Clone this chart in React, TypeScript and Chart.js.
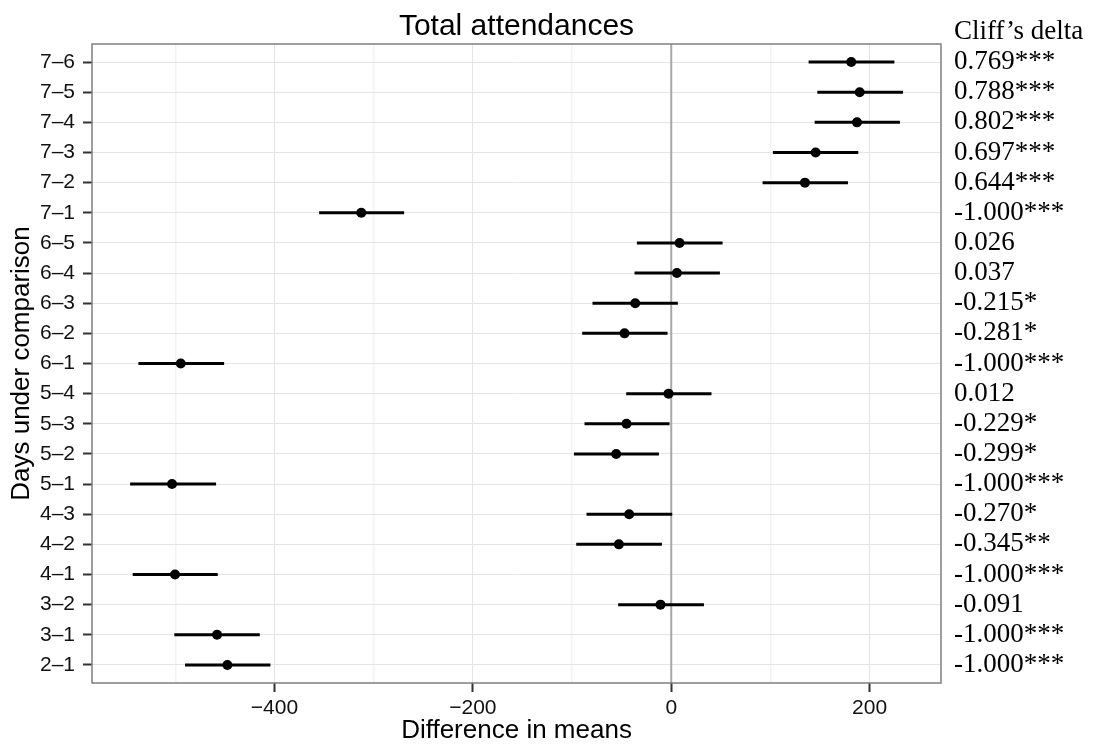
import React, { useEffect, useRef } from "react";
import { Chart, registerables } from "chart.js";

Chart.register(...registerables);

// Comparisons, top to bottom
const comparisons = [
  "7–6", "7–5", "7–4", "7–3", "7–2", "7–1",
  "6–5", "6–4", "6–3", "6–2", "6–1",
  "5–4", "5–3", "5–2", "5–1",
  "4–3", "4–2", "4–1",
  "3–2", "3–1",
  "2–1",
];

const lowerCI = [
  138.5, 147.3, 144.6, 102.5, 92.1, -355,
  -34.6, -37, -79.4, -89.8, -537.2,
  -45.4, -87.4, -98.1, -545.6,
  -85.4, -95.8, -543,
  -53.5, -501,
  -490.2,
];

const meanDiff = [
  181.5, 190, 187.3, 145.6, 134.8, -312.5,
  8.4, 5.7, -36.3, -47.1, -494.5,
  -2.7, -45.1, -55.5, -503.3,
  -42.4, -52.8, -500.3,
  -10.8, -457.9,
  -447.5,
];

const upperCI = [
  225, 233.7, 230.6, 188.6, 178.2, -269.3,
  51.8, 49.1, 6.7, -3.7, -450.8,
  40.6, -1.7, -12.4, -458.9,
  1, -9.4, -457.2,
  33, -414.8,
  -404.1,
];

const cliffDelta = [
  "0.769***", "0.788***", "0.802***", "0.697***", "0.644***", "-1.000***",
  "0.026", "0.037", "-0.215*", "-0.281*", "-1.000***",
  "0.012", "-0.229*", "-0.299*", "-1.000***",
  "-0.270*", "-0.345**", "-1.000***",
  "-0.091", "-1.000***",
  "-1.000***",
];

const xMajorTicks = [-400, -200, 0, 200];
const xMinorTicks = [-500, -300, -100, 100];
const xMin = -584;
const xMax = 272;

const titleText = "Total attendances";
const xTitleText = "Difference in means";
const yTitleText = "Days under comparison";
const rightHeader = "Cliff’s delta";

const SANS = "'Liberation Sans', Arial, sans-serif";
const SERIF = "'Liberation Serif', 'Times New Roman', serif";

function fmtNum(v: number): string {
  return v < 0 ? "\u2212" + String(Math.abs(v)) : String(v);
}

const panelPlugin = {
  id: "panelDecor",
  beforeDatasetsDraw(chart: any) {
    const { ctx, chartArea, scales } = chart;
    const px = scales.x.getPixelForValue(0);
    ctx.save();
    ctx.strokeStyle = "#a8a8a8";
    ctx.lineWidth = 2;
    ctx.beginPath();
    ctx.moveTo(px, chartArea.top);
    ctx.lineTo(px, chartArea.bottom);
    ctx.stroke();
    ctx.restore();
  },
  afterDraw(chart: any) {
    const { ctx, chartArea } = chart;
    ctx.save();
    ctx.strokeStyle = "#7f7f7f";
    ctx.lineWidth = 1.5;
    ctx.strokeRect(
      chartArea.left,
      chartArea.top,
      chartArea.right - chartArea.left,
      chartArea.bottom - chartArea.top
    );
    ctx.fillStyle = "#000";
    ctx.font = `27px ${SERIF}`;
    ctx.textAlign = "left";
    ctx.textBaseline = "alphabetic";
    ctx.fillText(rightHeader, chartArea.right + 13, chartArea.top - 5);
    ctx.restore();
  },
};

export default function App() {
  const ref = useRef<HTMLCanvasElement>(null);

  useEffect(() => {
    const canvas = ref.current;
    if (!canvas) return;
    const n = comparisons.length;
    const rowIdx = comparisons.map((_, i) => i);

    const barSets = comparisons.map((c, i) => ({
      label: c,
      data: [
        { x: lowerCI[i], y: i },
        { x: upperCI[i], y: i },
      ],
      showLine: true,
      borderColor: "#000",
      backgroundColor: "#000",
      borderWidth: 3,
      borderCapStyle: "butt",
      pointRadius: 0,
      pointHoverRadius: 0,
      order: 2,
    }));

    const pointSet = {
      label: "Difference in means",
      data: meanDiff.map((m, i) => ({ x: m, y: i })),
      showLine: false,
      pointRadius: 5,
      pointHoverRadius: 5,
      backgroundColor: "#000",
      borderColor: "#000",
      borderWidth: 0,
      order: 0,
    };

    const rowTicks = (s: any) => {
      s.ticks = rowIdx.map((v) => ({ value: v }));
    };

    const chart = new Chart(canvas, {
      type: "scatter",
      data: { datasets: [pointSet, ...barSets] as any },
      plugins: [panelPlugin],
      options: {
        animation: false,
        responsive: false,
        devicePixelRatio: 1,
        events: [],
        layout: { padding: 0 },
        font: { family: SANS },
        plugins: {
          legend: { display: false },
          tooltip: { enabled: false },
          title: {
            display: true,
            text: titleText,
            fullSize: false,
            color: "#000",
            font: { family: SANS, size: 30, weight: "normal", lineHeight: 1 },
            padding: { top: 12, bottom: 2 },
          },
        },
        scales: {
          x: {
            type: "linear",
            position: "bottom",
            min: xMin,
            max: xMax,
            afterBuildTicks: (s: any) => {
              s.ticks = [...xMinorTicks, ...xMajorTicks]
                .sort((a, b) => a - b)
                .map((v) => ({ value: v }));
            },
            afterFit: (s: any) => {
              s.height = 64;
            },
            ticks: {
              autoSkip: false,
              maxRotation: 0,
              minRotation: 0,
              padding: 4,
              color: "#111",
              font: { family: SANS, size: 21, lineHeight: 1.2 },
              callback: (v: any) => (xMajorTicks.includes(Number(v)) ? fmtNum(Number(v)) : ""),
            },
            grid: {
              color: (c: any) => {
                const v = c.tick ? c.tick.value : null;
                if (v === 0) return "rgba(0,0,0,0)";
                return xMajorTicks.includes(v) ? "#e5e5e5" : "#f3f3f3";
              },
              lineWidth: (c: any) => {
                const v = c.tick ? c.tick.value : null;
                return xMajorTicks.includes(v) ? 1 : 1.5;
              },
              tickColor: (c: any) => {
                const v = c.tick ? c.tick.value : null;
                return xMajorTicks.includes(v) ? "#333" : "rgba(0,0,0,0)";
              },
              tickLength: 9,
              tickWidth: 2,
            },
            border: { display: false },
            title: {
              display: true,
              text: xTitleText,
              color: "#000",
              font: { family: SANS, size: 26, lineHeight: 1 },
              padding: { top: 0, bottom: 3 },
            },
          },
          y: {
            type: "linear",
            position: "left",
            min: -0.6,
            max: n - 1 + 0.6,
            reverse: true,
            afterBuildTicks: rowTicks,
            afterFit: (s: any) => {
              s.width = 92;
            },
            ticks: {
              autoSkip: false,
              padding: 8,
              color: "#111",
              font: { family: SANS, size: 21, lineHeight: 1.2 },
              callback: (v: any) => comparisons[Number(v)] ?? "",
            },
            grid: {
              color: "#e5e5e5",
              lineWidth: 1,
              tickColor: "#333",
              tickLength: 9,
              tickWidth: 2,
            },
            border: { display: false },
            title: {
              display: true,
              text: yTitleText,
              color: "#000",
              font: { family: SANS, size: 26, lineHeight: 1 },
              padding: { top: 9, bottom: 0 },
            },
          },
          y2: {
            type: "linear",
            position: "right",
            min: -0.6,
            max: n - 1 + 0.6,
            reverse: true,
            afterBuildTicks: rowTicks,
            afterFit: (s: any) => {
              s.width = 158;
            },
            ticks: {
              autoSkip: false,
              padding: 13,
              color: "#000",
              font: { family: SERIF, size: 27, lineHeight: 1.2 },
              callback: (v: any) => cliffDelta[Number(v)] ?? "",
            },
            grid: { drawOnChartArea: false, drawTicks: false },
            border: { display: false },
          },
        },
      } as any,
    });

    return () => {
      chart.destroy();
    };
  }, []);

  return (
    <div
      style={{
        position: "fixed",
        left: 0,
        top: 0,
        width: 1099,
        height: 747,
        background: "#fff",
      }}
    >
      <canvas ref={ref} width={1099} height={747} style={{ display: "block" }} />
    </div>
  );
}
